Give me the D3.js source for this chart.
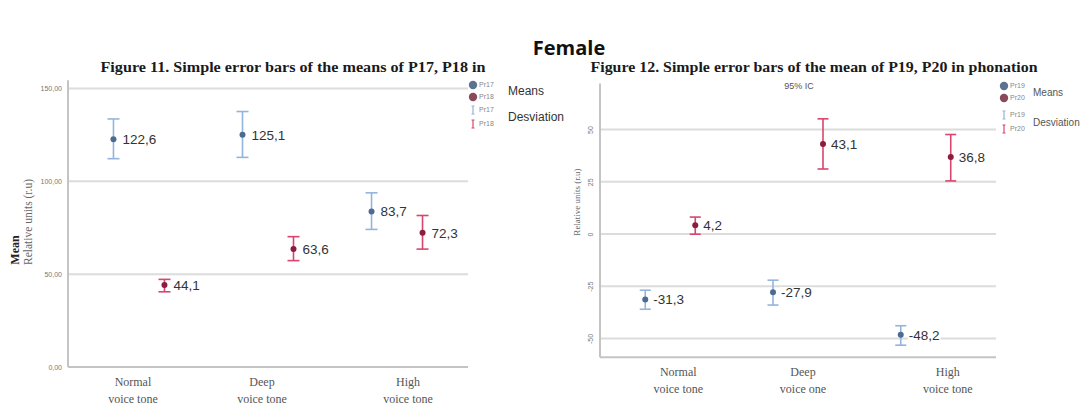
<!DOCTYPE html>
<html>
<head>
<meta charset="utf-8">
<script src="https://cdn.jsdelivr.net/npm/d3@7"></script>
<style>
  body { margin: 0; background: #fff; }
  svg { display: block; }
</style>
</head>
<body>
<div id="chart"></div>
<script>
// categories (two-line labels)
var catsLeft = [['Normal', 'voice tone'], ['Deep', 'voice tone'], ['High', 'voice tone']],
    catsRight = [['Normal', 'voice tone'], ['Deep', 'voice one'], ['High', 'voice tone']];

// figure 11 values (relative units)
var p17Mean = [122.6, 125.1, 83.7],
    p17Low = [112.2, 112.9, 74.1],
    p17High = [133.6, 137.6, 93.8];
var p18Mean = [44.1, 63.6, 72.3],
    p18Low = [40.5, 57.3, 63.5],
    p18High = [47.2, 70.2, 81.6];

// figure 12 values
var p19Mean = [-31.3, -27.9, -48.2],
    p19Low = [-36.0, -34.0, -53.2],
    p19High = [-26.9, -22.1, -43.9];
var p20Mean = [4.2, 43.1, 36.8],
    p20Low = [-0.1, 31.1, 25.4],
    p20High = [8.1, 55.1, 47.6];

var ticksLeft = [0, 50, 100, 150],
    ticksRight = [-50, -25, 0, 25, 50];

var blueBar = '#93b4df', blueDot = '#4d6b92',
    redBar = '#d8466f', redDot = '#8c1c40';

var svg = d3.select('#chart').append('svg')
    .attr('width', 1087)
    .attr('height', 407);

svg.append('text')
    .attr('x', 569).attr('y', 55)
    .attr('text-anchor', 'middle')
    .style('font-family', 'Open Sans, sans-serif')
    .style('font-weight', 'bold')
    .style('font-size', '20px')
    .attr('fill', '#111')
    .text('Female');

// european style numbers with plain hyphen for negatives
var fmtNum = f => (d => d3.format(f)(d).replace('.', ',').replace('\u2212', '-'));

function panel(cfg) {
    var g = svg.append('g');
    var x = d3.scalePoint().domain(d3.range(3)).range([cfg.x0, cfg.x1]).padding(0.55);
    var y = d3.scaleLinear().domain(cfg.yDom).range(cfg.yRange);
    var yBottom = y(cfg.axisMin), yTop = y(cfg.axisMax);

    // title
    g.append('text')
        .attr('x', cfg.titleX).attr('y', 72)
        .attr('text-anchor', 'middle')
        .attr('textLength', cfg.titleLen)
        .attr('lengthAdjust', 'spacingAndGlyphs')
        .style('font-family', 'Liberation Serif, serif')
        .style('font-weight', 'bold')
        .style('font-size', '14px')
        .attr('fill', '#1a1a1a')
        .text(cfg.title);

    // gridlines
    g.selectAll('.grid').data(cfg.ticks).enter().append('line')
        .attr('x1', cfg.x0).attr('x2', cfg.x1)
        .attr('y1', d => y(d)).attr('y2', d => y(d))
        .attr('stroke', '#dcdcdc').attr('stroke-width', 2);

    // axis lines
    g.append('line').attr('x1', cfg.x0).attr('x2', cfg.x0).attr('y1', yTop).attr('y2', yBottom)
        .attr('stroke', '#c4c4c4').attr('stroke-width', 2);
    g.append('line').attr('x1', cfg.x0).attr('x2', cfg.x1).attr('y1', yBottom).attr('y2', yBottom)
        .attr('stroke', '#c4c4c4').attr('stroke-width', 2);

    // y tick labels
    var ax = g.append('g')
        .attr('transform', 'translate(' + cfg.x0 + ',0)')
        .call(d3.axisLeft(y).tickValues(cfg.ticks).tickSize(0).tickPadding(6).tickFormat(cfg.tickFmt));
    ax.select('.domain').remove();
    ax.selectAll('text')
        .style('font-family', 'Liberation Sans, sans-serif')
        .style('font-size', '7px')
        .attr('fill', '#777');
    if (cfg.rotateTicks) {
        ax.selectAll('text')
            .attr('text-anchor', 'middle')
            .attr('x', -9).attr('dy', '0.3em')
            .attr('transform', 'rotate(-90,-9,0)');
    }

    // category labels
    cfg.cats.forEach((c, i) => {
        var t = g.append('text')
            .attr('x', x(i) + cfg.catShift[i]).attr('y', cfg.catY)
            .attr('text-anchor', 'middle')
            .style('font-family', 'Liberation Serif, serif')
            .style('font-size', '12px')
            .attr('fill', '#555');
        t.append('tspan').attr('x', x(i) + cfg.catShift[i]).text(c[0]);
        t.append('tspan').attr('x', x(i) + cfg.catShift[i]).attr('dy', 17).text(c[1]);
    });

    // y titles
    cfg.yTitles.forEach(yt => {
        g.append('text')
            .attr('transform', 'translate(' + yt.x + ',' + yt.y + ') rotate(-90)')
            .attr('text-anchor', 'middle')
            .style('font-family', 'Liberation Serif, serif')
            .style('font-weight', yt.bold ? 'bold' : 'normal')
            .style('font-size', yt.size + 'px')
            .attr('fill', yt.bold ? '#222' : '#666')
            .text(yt.text);
    });

    // series
    cfg.series.forEach((s, si) => {
        var off = si === 0 ? -cfg.gap / 2 : cfg.gap / 2;
        var data = s.mean.map((m, i) => ({i: i, m: m, lo: s.lo[i], hi: s.hi[i]}));
        var sg = g.append('g');
        var e = sg.selectAll('g').data(data).enter().append('g')
            .attr('transform', d => 'translate(' + (x(d.i) + off) + ',0)');
        e.append('line').attr('y1', d => y(d.lo)).attr('y2', d => y(d.hi))
            .attr('stroke', s.bar).attr('stroke-width', 1.6);
        e.append('line').attr('x1', -cfg.cap).attr('x2', cfg.cap)
            .attr('y1', d => y(d.hi)).attr('y2', d => y(d.hi))
            .attr('stroke', s.bar).attr('stroke-width', 1.6);
        e.append('line').attr('x1', -cfg.cap).attr('x2', cfg.cap)
            .attr('y1', d => y(d.lo)).attr('y2', d => y(d.lo))
            .attr('stroke', s.bar).attr('stroke-width', 1.6);
        e.append('circle').attr('cy', d => y(d.m)).attr('r', 3).attr('fill', s.dot);
        var lab = e.append('text')
            .attr('x', cfg.labelDx).attr('y', d => y(d.m)).attr('dy', '0.36em')
            .style('font-family', 'Liberation Sans, Arial, sans-serif')
            .style('font-size', '13.5px')
            .attr('fill', '#333')
            .text(d => fmtNum('.1f')(d.m));
        // white backing so gridlines don't run through the value
        lab.each(function () {
            var b = this.getBBox();
            d3.select(this.parentNode).insert('rect', 'text')
                .attr('x', b.x - 1).attr('y', b.y + 2).attr('width', b.width + 2).attr('height', b.height - 4)
                .attr('fill', '#fff');
        });
    });

    // legend
    var L = cfg.legend;
    var lg = g.append('g').attr('transform', 'translate(' + L.x + ',0)');
    var names = cfg.series.map(s => s.name);
    [L.y1, L.y1 + 12].forEach((yy, k) => {
        lg.append('circle').attr('cx', 0).attr('cy', yy).attr('r', 4.2).attr('fill', L.dots[k]);
        lg.append('text').attr('x', 6).attr('y', yy).attr('dy', '0.35em')
            .style('font-family', 'Liberation Sans, sans-serif').style('font-size', '7px')
            .attr('fill', '#888').text(names[k]);
    });
    [L.y2, L.y2 + 14].forEach((yy, k) => {
        var c = cfg.series[k].bar;
        lg.append('line').attr('x1', 0).attr('x2', 0).attr('y1', yy - 4).attr('y2', yy + 4).attr('stroke', c).attr('stroke-width', 1.2);
        lg.append('line').attr('x1', -1.5).attr('x2', 1.5).attr('y1', yy - 4).attr('y2', yy - 4).attr('stroke', c);
        lg.append('line').attr('x1', -1.5).attr('x2', 1.5).attr('y1', yy + 4).attr('y2', yy + 4).attr('stroke', c);
        lg.append('text').attr('x', 6).attr('y', yy).attr('dy', '0.35em')
            .style('font-family', 'Liberation Sans, sans-serif').style('font-size', '7px')
            .attr('fill', '#888').text(names[k]);
    });
    lg.append('text').attr('x', L.textX).attr('y', L.y1 + 6).attr('dy', '0.35em')
        .style('font-family', 'Liberation Sans, Arial, sans-serif').style('font-size', L.size + 'px')
        .attr('fill', L.color).text('Means');
    lg.append('text').attr('x', L.textX).attr('y', L.y2 + 7).attr('dy', '0.35em')
        .style('font-family', 'Liberation Sans, Arial, sans-serif').style('font-size', L.size + 'px')
        .attr('fill', L.color).text('Desviation');
    return g;
}

panel({
    x0: 68, x1: 468,
    yDom: [0, 150], yRange: [367, 88.5], axisMin: 0, axisMax: 154.5,
    ticks: ticksLeft, tickFmt: fmtNum('.2f'),
    title: 'Figure 11. Simple error bars of the means of P17, P18 in', titleX: 293, titleLen: 385,
    cats: catsLeft, catShift: [-6, -6, 11], catY: 386,
    yTitles: [
        {text: 'Mean', x: 19, y: 250, size: 12, bold: true},
        {text: 'Relative units (r.u)', x: 32, y: 222, size: 11.5, bold: false}
    ],
    gap: 51, cap: 6, labelDx: 9,
    series: [
        {name: 'Pr17', mean: p17Mean, lo: p17Low, hi: p17High, bar: blueBar, dot: blueDot},
        {name: 'Pr18', mean: p18Mean, lo: p18Low, hi: p18High, bar: redBar, dot: redDot}
    ],
    legend: {x: 473, y1: 85, y2: 110, textX: 35, size: 12, color: '#333', dots: ['#5b7391', '#8a4a5c']}
});

panel({
    x0: 600, x1: 996,
    yDom: [-50, 50], yRange: [338.5, 129.5], axisMin: -59, axisMax: 72,
    ticks: ticksRight, tickFmt: fmtNum('d'), rotateTicks: true,
    title: 'Figure 12. Simple error bars of the mean of P19, P20 in phonation', titleX: 814, titleLen: 447,
    cats: catsRight, catShift: [8, 5, 22], catY: 376,
    yTitles: [
        {text: 'Relative units (r.u)', x: 580, y: 202, size: 9, bold: false}
    ],
    gap: 50, cap: 5.5, labelDx: 8,
    series: [
        {name: 'Pr19', mean: p19Mean, lo: p19Low, hi: p19High, bar: blueBar, dot: blueDot},
        {name: 'Pr20', mean: p20Mean, lo: p20Low, hi: p20High, bar: redBar, dot: redDot}
    ],
    legend: {x: 1004, y1: 86, y2: 115, textX: 29, size: 10, color: '#555', dots: ['#5b7391', '#8a4a5c']}
});

// subtitle of figure 12
svg.append('text').attr('x', 799).attr('y', 89).attr('text-anchor', 'middle')
    .style('font-family', 'Liberation Sans, sans-serif').style('font-size', '9px')
    .attr('fill', '#555').text('95% IC');
</script>
</body>
</html>
